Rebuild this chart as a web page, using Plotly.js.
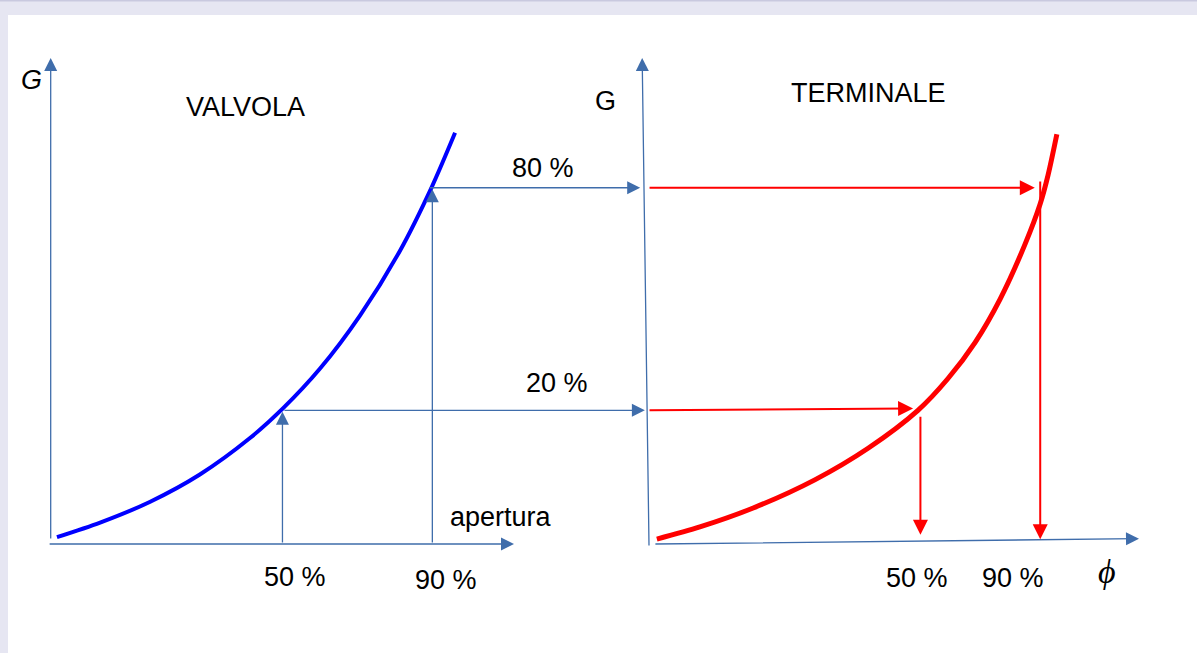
<!DOCTYPE html>
<html><head><meta charset="utf-8">
<script src="https://cdn.plot.ly/plotly-3.0.1.min.js"></script>
<style>html,body{margin:0;padding:0;background:#e6e6f2;}#chart{width:1197px;height:653px;}</style>
</head><body><div id="chart"></div>
<script>
// ---- DATA (units: 0-100 along each drawn axis arrow) ----
// Left diagram: VALVOLA, G vs apertura
const valveOpening = [1.5, 10.8, 21.6, 32.3, 43.1, 50.2, 58.2, 66.8, 75.4, 82.3, 87.3];
const valveFlow    = [1.4, 4.4, 8.7, 14.3, 21.8, 27.9, 36.1, 47.0, 60.3, 73.5, 84.6];
const valveMarkX      = [50.1, 82.4];          // opening marks
const valveMarkLabels = ['50 %', '90 %'];
const flowLevelY      = [27.5, 73.3];          // flow levels read on both diagrams
const flowLevelLabels = ['20 %', '80 %'];
const bridgeStartX    = [50.2, 81.5];          // where the level arrows leave the valve curve
const bridgeEndX      = [128.2, 127.2];        // right-hand G axis, in left-diagram units

// Right diagram: TERMINALE, G vs phi
const terminalPhi = [1.4, 10.2, 21.1, 33.7, 44.6, 54.8, 60.9, 66.5, 71.6, 76.7, 79.8, 81.4, 83.2];
const terminalG   = [1.0, 3.5, 7.4, 13.2, 19.7, 27.5, 34.0, 41.5, 50.4, 61.7, 70.0, 75.9, 84.3];
const terminalMarkX      = [55.3, 79.8];
const terminalMarkLabels = ['50 %', '90 %'];
const terminalArrowEndX  = [53.8, 78.7];       // red level arrows stop at the curve
const terminalDropTopY   = [26.5, 74.9];       // red drop arrows start
const terminalDropEndY   = [1.9, 1.0];         // red drop arrows end on phi axis

// ---- STYLE ----
const AXC = '#3f6dab', BLUE = '#0000ff', RED = '#ff0000';
const FONT = 'Liberation Sans, Arial, sans-serif';
const FS = 27;
const W = 1197, H = 653;

function arrow(xref, x0, y0, x1, y1, color, width, size) {
  return {xref: xref, yref: 'y', axref: xref, ayref: 'y', x: x1, y: y1, ax: x0, ay: y0,
    text: '', showarrow: true, arrowhead: 2, arrowsize: size, arrowwidth: width,
    arrowcolor: color, standoff: 0, startstandoff: 0};
}
function label(xref, x, y, text, size, extra) {
  return Object.assign({xref: xref, yref: 'y', x: x, y: y, text: text, showarrow: false,
    xanchor: 'center', yanchor: 'middle', font: {family: FONT, size: size, color: '#000'}}, extra || {});
}

const ann = [];
// left axes
ann.push(arrow('x', 0.15, 0.8, 0.15, 100, AXC, 1.3, 2));
ann.push(arrow('x', -0.4, 0, 100, 0, AXC, 1.3, 2));
// right axes (slightly tilted as in the sketch)
ann.push(arrow('x2', -0.2, -0.6, -1.6, 100, AXC, 1.3, 2));
ann.push(arrow('x2', 0.8, 0, 100, 1.1, AXC, 1.3, 2));
// blue verticals from the valve opening up to the curve
for (let i = 0; i < valveMarkX.length; i++) {
  ann.push(arrow('x', valveMarkX[i], 0, valveMarkX[i], flowLevelY[i] - 0.3, AXC, 1.3, 2));
}
// blue horizontal transfer arrows
for (let i = 0; i < flowLevelY.length; i++) {
  ann.push(arrow('x', bridgeStartX[i], flowLevelY[i], bridgeEndX[i], flowLevelY[i], AXC, 1.3, 2));
  ann.push(label('x', (bridgeStartX[i] + bridgeEndX[i]) / 2 + [20, 2][i], flowLevelY[i] + [5.6, 4.0][i], flowLevelLabels[i], FS));
}
// red arrows in terminal diagram
for (let i = 0; i < flowLevelY.length; i++) {
  ann.push(arrow('x2', -0.4, flowLevelY[i], terminalArrowEndX[i], flowLevelY[i] + [0.4, 0][i], RED, 2, 1.5));
  ann.push(arrow('x2', terminalMarkX[i], terminalDropTopY[i], terminalMarkX[i], terminalDropEndY[i], RED, 2, 1.5));
}
// tick-like labels
ann.push(label('x', valveMarkX[0] + 2.7, -6.8, valveMarkLabels[0], FS));
ann.push(label('x', valveMarkX[1] + 2.9, -7.4, valveMarkLabels[1], FS));
ann.push(label('x2', terminalMarkX[0] - 0.7, -7.0, terminalMarkLabels[0], FS));
ann.push(label('x2', terminalMarkX[1] - 5.6, -7.0, terminalMarkLabels[1], FS));
// titles and axis names
ann.push(label('x', -3.9, 95.5, '<i>G</i>', FS));
ann.push(label('x', 42.2, 89.9, 'VALVOLA', FS));
ann.push(label('x', 97.2, 5.6, 'apertura', FS));
ann.push(label('x2', -9.2, 91.2, 'G', FS));
ann.push(label('x2', 44.6, 92.8, 'TERMINALE', FS));
ann.push(label('x2', 93.5, -5.6, '<i>ϕ</i>', 34, {font: {family: 'Liberation Serif, DejaVu Serif, serif', size: 34, color: '#000'}}));

// map units to pixels: left x 0->50px, 100->514px; right x 0->650px, 100->1139px; y 0->544px, 100->58px
const kxL = 4.64, kxR = 4.89, ky = 4.86;
const layout = {
  width: W, height: H, margin: {l: 0, r: 0, t: 0, b: 0},
  paper_bgcolor: '#e6e6f2', plot_bgcolor: 'rgba(0,0,0,0)', showlegend: false,
  xaxis: {domain: [0, 1], range: [-50 / kxL, (W - 50) / kxL], visible: false, fixedrange: true},
  xaxis2: {domain: [0, 1], range: [-650 / kxR, (W - 650) / kxR], visible: false, overlaying: 'x', fixedrange: true},
  yaxis: {domain: [0, 1], range: [(544 - H) / ky, 544 / ky], visible: false, fixedrange: true},
  shapes: [
    {type: 'rect', xref: 'paper', yref: 'paper', x0: 8 / W, x1: 1, y0: 0, y1: (H - 15) / H,
      fillcolor: '#ffffff', line: {width: 0}, layer: 'below'},
    {type: 'rect', xref: 'paper', yref: 'paper', x0: 0, x1: 1, y0: (H - 1.5) / H, y1: 1,
      fillcolor: '#c9c9df', line: {width: 0}, layer: 'below'}
  ],
  annotations: ann
};
const traces = [
  {type: 'scatter', mode: 'lines', x: valveOpening, y: valveFlow, xaxis: 'x', yaxis: 'y',
    line: {color: BLUE, width: 4, shape: 'spline', smoothing: 0.8}, hoverinfo: 'skip'},
  {type: 'scatter', mode: 'lines', x: terminalPhi, y: terminalG, xaxis: 'x2', yaxis: 'y',
    line: {color: RED, width: 5, shape: 'spline', smoothing: 0.8}, hoverinfo: 'skip'}
];
Plotly.newPlot('chart', traces, layout, {staticPlot: true, displayModeBar: false});
</script></body></html>
